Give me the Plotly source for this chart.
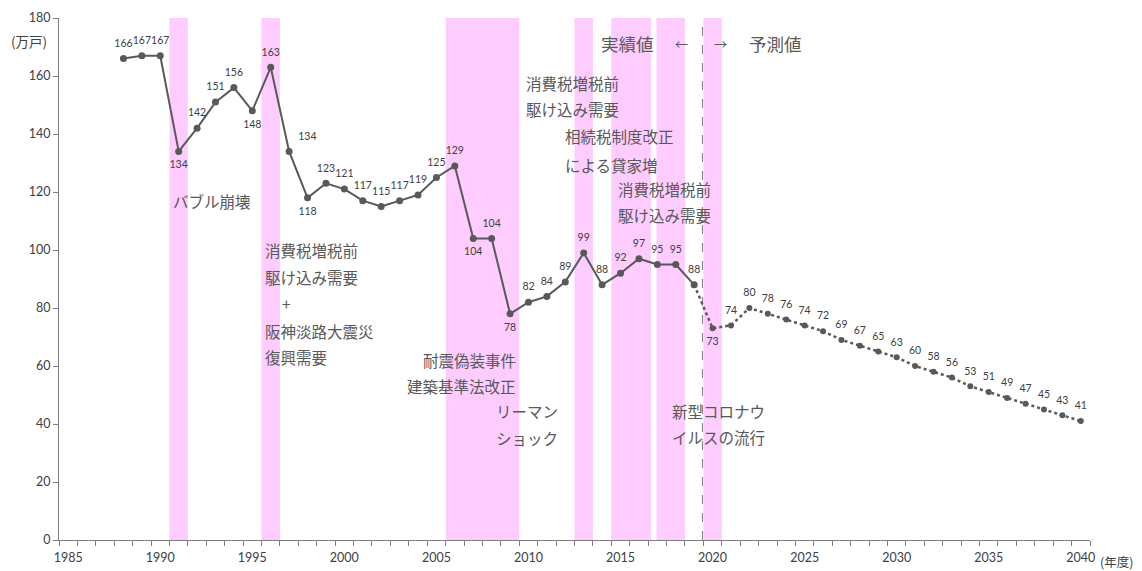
import plotly.graph_objects as go

years_actual = list(range(1988, 2020))
starts_actual = [166, 167, 167, 134, 142, 151, 156, 148, 163, 134, 118, 123, 121, 117, 115, 117, 119,
                 125, 129, 104, 104, 78, 82, 84, 89, 99, 88, 92, 97, 95, 95, 88]
years_fc = list(range(2019, 2041))
starts_fc = [88, 73, 74, 80, 78, 76, 74, 72, 69, 67, 65, 63, 60, 58, 56, 53, 51, 49, 47, 45, 43, 41]
xtick_years = list(range(1985, 2041, 5))

# label placement per point
below_actual = {1991, 1995, 1998, 2007, 2009}
pos_actual = []
for y in years_actual:
    if y in below_actual:
        pos_actual.append("bottom center")
    elif y == 1997:
        pos_actual.append("top right")
    else:
        pos_actual.append("top center")
text_fc = [""] + [str(v) for v in starts_fc[1:]]
pos_fc = ["top center"] + ["bottom center"] + ["top center"] * (len(starts_fc) - 2)

# event bands (fiscal years, category edges)
bands = [(1990.5, 1991.5), (1995.5, 1996.5), (2005.5, 2009.5), (2012.5, 2013.5),
         (2014.5, 2016.65), (2016.95, 2018.5), (2019.5, 2020.5)]

# (text, x, y, anchor)
notes = [
    ("バブル崩壊", 1990.57, 117.0, "left"),
    ("消費税増税前", 1995.57, 99.9, "left"),
    ("駆け込み需要", 1995.57, 90.7, "left"),
    ("+", 1996.87, 81.6, "center"),
    ("阪神淡路大震災", 1995.57, 72.2, "left"),
    ("復興需要", 1995.57, 63.0, "left"),
    ("耐震偽装事件", 2009.45, 62.0, "right"),
    ("建築基準法改正", 2009.45, 53.0, "right"),
    ("リーマン", 2011.7, 44.4, "right"),
    ("ショック", 2011.7, 35.2, "right"),
    ("消費税増税前", 2009.74, 157.5, "left"),
    ("駆け込み需要", 2009.74, 148.5, "left"),
    ("相続税制度改正", 2011.86, 139.2, "left"),
    ("による貸家増", 2011.86, 129.4, "left"),
    ("消費税増税前", 2014.74, 120.9, "left"),
    ("駆け込み需要", 2014.74, 111.9, "left"),
    ("新型コロナウ", 2017.68, 44.4, "left"),
    ("イルスの流行", 2017.68, 35.4, "left"),
]

txt_color = "#595959"
line_color = "#595959"
jp_font = "Noto Sans CJK JP"
num_font = "Lato, Open Sans, sans-serif"

fig = go.Figure()

for x0, x1 in bands:
    fig.add_shape(type="rect", xref="x", yref="y", x0=x0, x1=x1, y0=0, y1=180,
                  fillcolor="#FFCCFF", line_width=0, layer="below")

fig.add_shape(type="line", xref="x", yref="y", x0=2019.45, x1=2019.45, y0=0, y1=180,
              line=dict(color="#7f7f7f", width=1, dash="dash"), layer="below")

# lines
fig.add_trace(go.Scatter(
    x=years_fc, y=starts_fc, mode="lines+markers",
    line=dict(color=line_color, width=2.5, dash="dot"),
    marker=dict(color=line_color, size=6),
    hoverinfo="x+y", showlegend=False))
fig.add_trace(go.Scatter(
    x=years_actual, y=starts_actual, mode="lines+markers",
    line=dict(color=line_color, width=2),
    marker=dict(color=line_color, size=7),
    hoverinfo="x+y", showlegend=False))

# data labels (transparent larger markers to push text away from points)
fig.add_trace(go.Scatter(
    x=years_fc, y=starts_fc, mode="markers+text",
    marker=dict(color="rgba(0,0,0,0)", size=13),
    text=text_fc, textposition=pos_fc,
    textfont=dict(family=num_font, size=10.5, color="#404040"),
    cliponaxis=False, hoverinfo="skip", showlegend=False))
fig.add_trace(go.Scatter(
    x=years_actual, y=starts_actual, mode="markers+text",
    marker=dict(color="rgba(0,0,0,0)", size=13),
    text=[str(v) for v in starts_actual], textposition=pos_actual,
    textfont=dict(family=num_font, size=10.5, color="#404040"),
    cliponaxis=False, hoverinfo="skip", showlegend=False))

for t, x, y, anc in notes:
    fig.add_annotation(x=x, y=y, xref="x", yref="y", text=t, showarrow=False,
                       xanchor=anc, yanchor="middle",
                       font=dict(family=jp_font, size=15.5, color=txt_color))

# 実績値 ← → 予測値
fig.add_annotation(x=2016.9, y=171.3, xref="x", yref="y", text="実績値", showarrow=False,
                   xanchor="right", yanchor="middle",
                   font=dict(family=jp_font, size=17.5, color=txt_color))
fig.add_annotation(x=2018.3, y=171.3, xref="x", yref="y", text="←", showarrow=False,
                   xanchor="center", yanchor="middle",
                   font=dict(family=jp_font, size=13, color=txt_color))
fig.add_annotation(x=2020.45, y=171.3, xref="x", yref="y", text="→", showarrow=False,
                   xanchor="center", yanchor="middle",
                   font=dict(family=jp_font, size=13, color=txt_color))
fig.add_annotation(x=2021.85, y=171.3, xref="x", yref="y", text="予測値", showarrow=False,
                   xanchor="left", yanchor="middle",
                   font=dict(family=jp_font, size=17.5, color=txt_color))

fig.add_annotation(x=0, y=172.2, xref="paper", yref="y", text="(万戸)", showarrow=False,
                   xanchor="right", yanchor="middle", xshift=-10,
                   font=dict(family=jp_font, size=13.5, color="#404040"))
fig.add_annotation(x=1, y=0, xref="paper", yref="paper", text="(年度)", showarrow=False,
                   xanchor="left", yanchor="middle", xshift=8, yshift=-21,
                   font=dict(family=jp_font, size=12.5, color="#404040"))

fig.update_layout(
    width=1142, height=571,
    margin=dict(l=59, r=52, t=18, b=31, autoexpand=False),
    plot_bgcolor="white", paper_bgcolor="white",
    xaxis=dict(range=[1984.5, 2040.5], tickmode="array",
               tickvals=xtick_years,
               ticktext=[str(v) for v in xtick_years],
               ticks="", showgrid=False, zeroline=False, automargin=False,
               showline=True, linecolor="#7f7f7f", linewidth=1,
               ticklabelstandoff=6,
               tickfont=dict(family=num_font, size=12.5, color="#404040"),
               minor=dict(tick0=1984.5, dtick=1, ticks="outside", ticklen=5,
                          tickcolor="#7f7f7f", showgrid=False)),
    yaxis=dict(range=[0, 180], dtick=20, ticks="outside", ticklen=5, tickcolor="#7f7f7f",
               automargin=False,
               showgrid=False, zeroline=False, showline=True, linecolor="#7f7f7f", linewidth=1,
               tickfont=dict(family=num_font, size=12.5, color="#404040")),
)

fig.write_html("out.html")
